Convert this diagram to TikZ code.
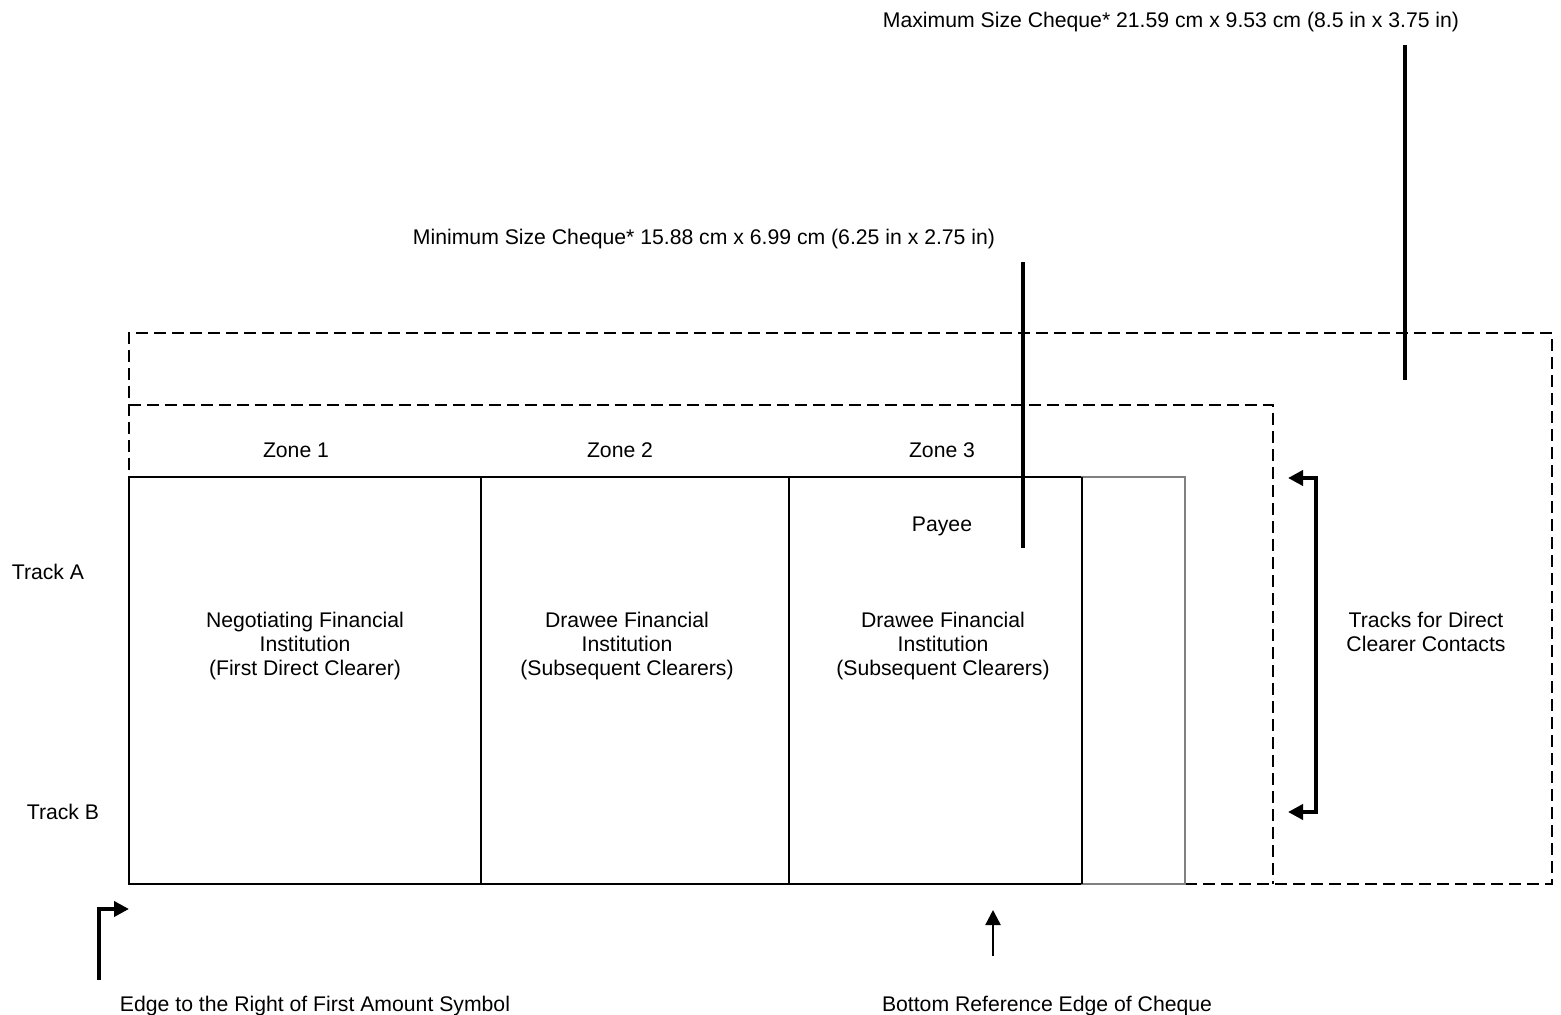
\documentclass[tikz,border=0pt]{standalone}
\usepackage{fontspec}
\setmainfont{Liberation Sans}
\usetikzlibrary{arrows.meta}
\tikzset{
  cheque/.style={line width=1pt},
  dashbox/.style={line width=1pt, dash pattern=on 6pt off 3pt},
  marker/.style={line width=2pt},
  pointer/.style={line width=2pt, -{Triangle[length=7.5pt,width=7.5pt]}},
  txt/.style={inner sep=0pt, anchor=base, align=center,
    font=\fontsize{10.6}{12}\selectfont},
}
\begin{document}
\begin{tikzpicture}[x=0.5pt, y=-0.5pt]
\useasboundingbox (0,0) rectangle (1561,1015);
\draw[dashbox] (129,884) -- (129,333) -- (1552,333) -- (1552,884) -- (1185,884);
\draw[dashbox] (129,405) -- (1273,405) -- (1273,884);
\draw[cheque] (129,477) rectangle (1082,884);
\draw[cheque] (481,477) -- (481,884);
\draw[cheque] (789,477) -- (789,884);
\draw[gray, line width=0.7pt] (1082,477) rectangle (1185,884);
\draw[cheque] (1082,477) -- (1082,884);

\node[txt] (maxsize) at (1171, 28) {Maximum Size Cheque* 21.59 cm x 9.53 cm (8.5 in x 3.75 in)};
\node[txt] (minsize) at (704, 245) {Minimum Size Cheque* 15.88 cm x 6.99 cm (6.25 in x 2.75 in)};
\node[txt] (zone1) at (296, 458) {Zone 1};
\node[txt] (zone2) at (620, 458) {Zone 2};
\node[txt] (zone3) at (942, 458) {Zone 3};
\node[txt] (payee) at (942, 531) {Payee};
\node[txt] (tracka) at (48, 579) {Track A};
\node[txt] (trackb) at (63, 819) {Track B};
\node[txt] (nfi) at (305, 675) {Negotiating Financial\\Institution\\(First Direct Clearer)};
\node[txt] (dfi1) at (627, 675) {Drawee Financial\\Institution\\(Subsequent Clearers)};
\node[txt] (dfi2) at (943, 675) {Drawee Financial\\Institution\\(Subsequent Clearers)};
\node[txt] (contacts) at (1426, 651) {Tracks for Direct\\Clearer Contacts};
\node[txt] (edge) at (315, 1011) {Edge to the Right of First Amount Symbol};
\node[txt] (bottom) at (1047, 1011) {Bottom Reference Edge of Cheque};

\coordinate (mintop) at (1023, 262);
\coordinate (minbot) at (1023, 548);
\coordinate (maxtop) at (1405, 45);
\coordinate (maxbot) at (1405, 380);
\draw[marker] (mintop) -- (minbot);
\draw[marker] (maxtop) -- (maxbot);

\coordinate (tracktop) at (1288, 478);
\coordinate (trackbot) at (1288, 812);
\draw[pointer, {Triangle[length=7.5pt,width=7.5pt]}-{Triangle[length=7.5pt,width=7.5pt]}]
  (tracktop) -- ++(28,0) -- ++(0,334) -- (trackbot);

\coordinate (edgefoot) at (99, 980);
\coordinate (edgetip) at (129, 909);
\draw[pointer] (edgefoot) |- (edgetip);

\coordinate (reffoot) at (993, 956);
\coordinate (reftip) at (993, 910);
\draw[pointer, line width=1.2pt] (reffoot) -- (reftip);
\end{tikzpicture}
\end{document}
